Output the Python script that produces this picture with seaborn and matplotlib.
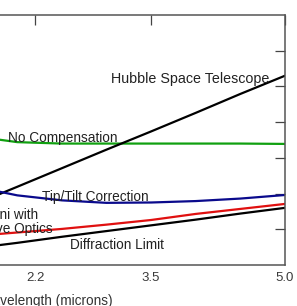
import matplotlib
matplotlib.use("Agg")
import matplotlib.pyplot as plt
import seaborn as sns
import pandas as pd

# wavelength grid (microns) and image size curves
wavelength = [1.65, 2.0, 2.5, 3.0, 3.5, 4.0, 4.5, 5.0]
no_compensation = [3.56, 3.44, 3.40, 3.40, 3.40, 3.40, 3.40, 3.39]
hubble = [1.83, 2.19, 2.71, 3.23, 3.74, 4.26, 4.79, 5.30]
tip_tilt = [2.13, 1.95, 1.81, 1.74, 1.75, 1.79, 1.86, 1.96]
gemini_ao = [0.84, 0.91, 1.01, 1.13, 1.26, 1.43, 1.57, 1.71]
diffraction = [0.51, 0.62, 0.79, 0.95, 1.11, 1.27, 1.44, 1.60]

series = {
    "No Compensation": no_compensation,
    "Hubble Space Telescope": hubble,
    "Tip/Tilt Correction": tip_tilt,
    "Gemini with Adaptive Optics": gemini_ao,
    "Diffraction Limit": diffraction,
}
colors = {
    "No Compensation": "#10a010",
    "Hubble Space Telescope": "#000000",
    "Tip/Tilt Correction": "#0a0a8c",
    "Gemini with Adaptive Optics": "#e01010",
    "Diffraction Limit": "#000000",
}
xticks = [2.2, 3.5, 5.0]
yticks = [1, 2, 3, 4, 5, 6]

rows = []
for name, vals in series.items():
    for w, v in zip(wavelength, vals):
        rows.append({"wavelength": w, "value": v, "series": name})
df = pd.DataFrame(rows)

sns.set_style("white")
plt.rcParams["font.family"] = ["Liberation Sans", "DejaVu Sans"]

fig = plt.figure(figsize=(2.97, 3.06), dpi=100)
# axes extend past the left edge: the reference is a crop of a wider chart
ax = fig.add_axes([-0.2424, 0.134, 1.202, 0.817])

sns.lineplot(data=df, x="wavelength", y="value", hue="series",
             palette=colors, linewidth=1.6, legend=False, ax=ax, sort=True)

ax.set_xlim(1.0, 5.0)
ax.set_ylim(0, 7)
ax.set_xticks(xticks)
ax.set_xticklabels(["2.2", "3.5", "5.0"])
ax.set_yticks(yticks)
ax.set_yticklabels([])
ax.tick_params(axis="both", direction="in", length=7.2, width=0.9,
               color="#444444", labelcolor="#3a3a3a", labelsize=9.5,
               top=True, right=True, pad=5)

for sp in ax.spines.values():
    sp.set_color("#555555")
    sp.set_linewidth(1.1)

ax.set_xlabel("Wavelength (microns)", fontsize=9.8, color="#333333")
ax.xaxis.set_label_coords(0.332, -0.115)
ax.set_ylabel("")

tkw = dict(fontsize=9.8, color="#222222", va="baseline")
ax.text(3.94, 5.10, "Hubble Space Telescope", ha="center",
        fontsize=10.3, color="#222222", va="baseline")
ax.text(1.898, 3.445, "No Compensation", ha="left", **tkw)
ax.text(2.278, 1.78, "Tip/Tilt Correction", ha="left", **tkw)
ax.text(2.234, 1.29, "Gemini with", ha="right", **tkw)
ax.text(2.40, 0.90, "Adaptive Optics", ha="right", **tkw)
ax.text(2.592, 0.45, "Diffraction Limit", ha="left", **tkw)

fig.savefig("out.png", dpi=100)
